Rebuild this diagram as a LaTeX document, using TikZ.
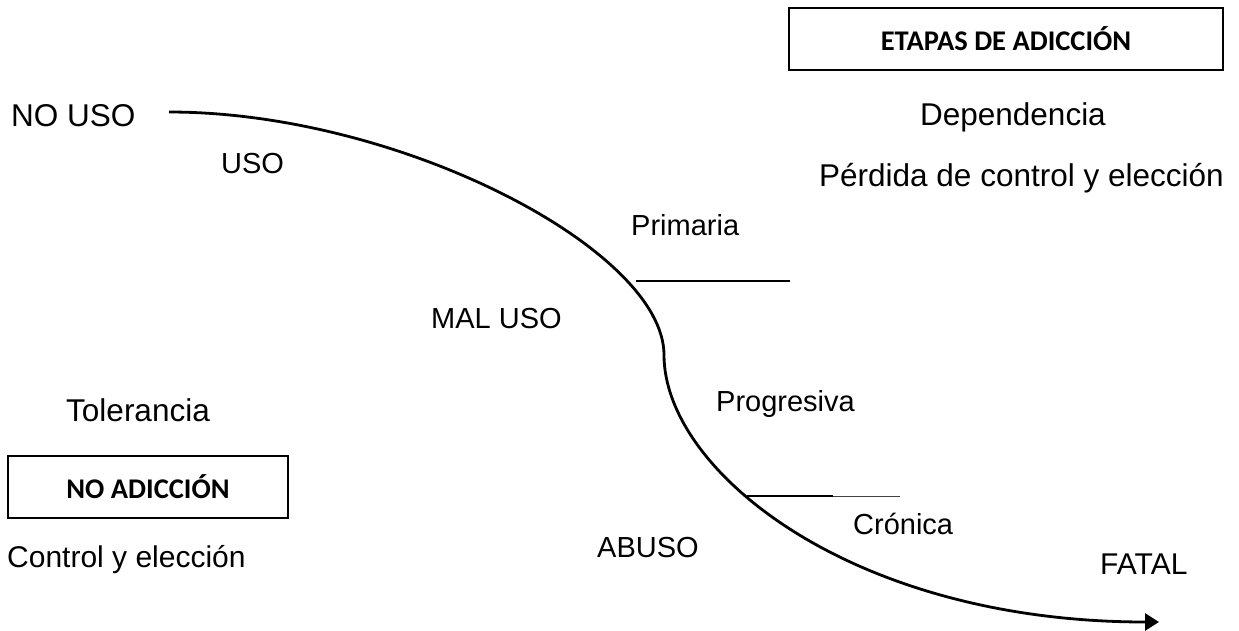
\documentclass[tikz,border=0pt]{standalone}
\usepackage{fontspec}
\setmainfont{Liberation Sans}
\newfontfamily\boxfont{Carlito}
\usetikzlibrary{arrows.meta}
\tikzset{
  big/.style={inner sep=0pt, font=\fontsize{31.5}{38}\selectfont},
  mid/.style={inner sep=0pt, font=\fontsize{30}{36}\selectfont},
  small/.style={inner sep=0pt, font=\fontsize{29}{35}\selectfont},
  boxlbl/.style={inner sep=0pt, font=\boxfont\bfseries\fontsize{28.5}{34}\selectfont},
  frame/.style={draw=black, line width=1.5pt},
  curve/.style={line width=2.8pt},
  tick/.style={line width=2pt},
  thintick/.style={line width=1pt, draw=black!75}
}
\begin{document}
\begin{tikzpicture}[x=1pt,y=-1pt]
\useasboundingbox (0,0) rectangle (1239,630);
% boxes
\draw[frame] (789,8) rectangle (1223,70);
\node[boxlbl] (etapas) at (1006,39) {ETAPAS DE ADICCIÓN};
\draw[frame] (8,456) rectangle (288,518);
\node[boxlbl] (noadic) at (148,487) {NO ADICCIÓN};
% labels
\node[big, anchor=base west] (nouso) at (11,126) {NO USO};
\node[small, anchor=base west] (uso) at (221,173) {USO};
\node[big, anchor=base east] (dep) at (1106,125) {Dependencia};
\node[big, anchor=base west] (perd) at (819,186) {Pérdida de control y elección};
\node[small, anchor=base west] (prim) at (631,235) {Primaria};
\node[small, anchor=base west] (maluso) at (431,328) {MAL USO};
\node[small, anchor=base west] (prog) at (716,411) {Progresiva};
\node[big, anchor=base west] (tol) at (66,421) {Tolerancia};
\node[small, anchor=base west] (cron) at (853,534) {Crónica};
\node[small, anchor=base west] (abuso) at (597,557) {ABUSO};
\node[mid, anchor=base west] (control) at (7,567) {Control y elección};
\node[mid, anchor=base west] (fatal) at (1100,574) {FATAL};
% curve
\coordinate (c0) at (169,112);
\coordinate (c1) at (664,355);
\coordinate (c2) at (1159,622);
\draw[curve, -{Triangle[length=14pt,width=17pt]}]
  (c0) .. controls (400,112) and (664,250) .. (c1)
       .. controls (664,470) and (850,622) .. (c2);
% stage ticks
\coordinate (p1) at (636,281); \coordinate (p2) at (790,281);
\draw[tick] (p1) -- (p2);
\coordinate (q1) at (747,496); \coordinate (q2) at (833,496); \coordinate (q3) at (900,496);
\draw[tick] (q1) -- (q2);
\draw[thintick] (q2) -- (q3);
\end{tikzpicture}
\end{document}
